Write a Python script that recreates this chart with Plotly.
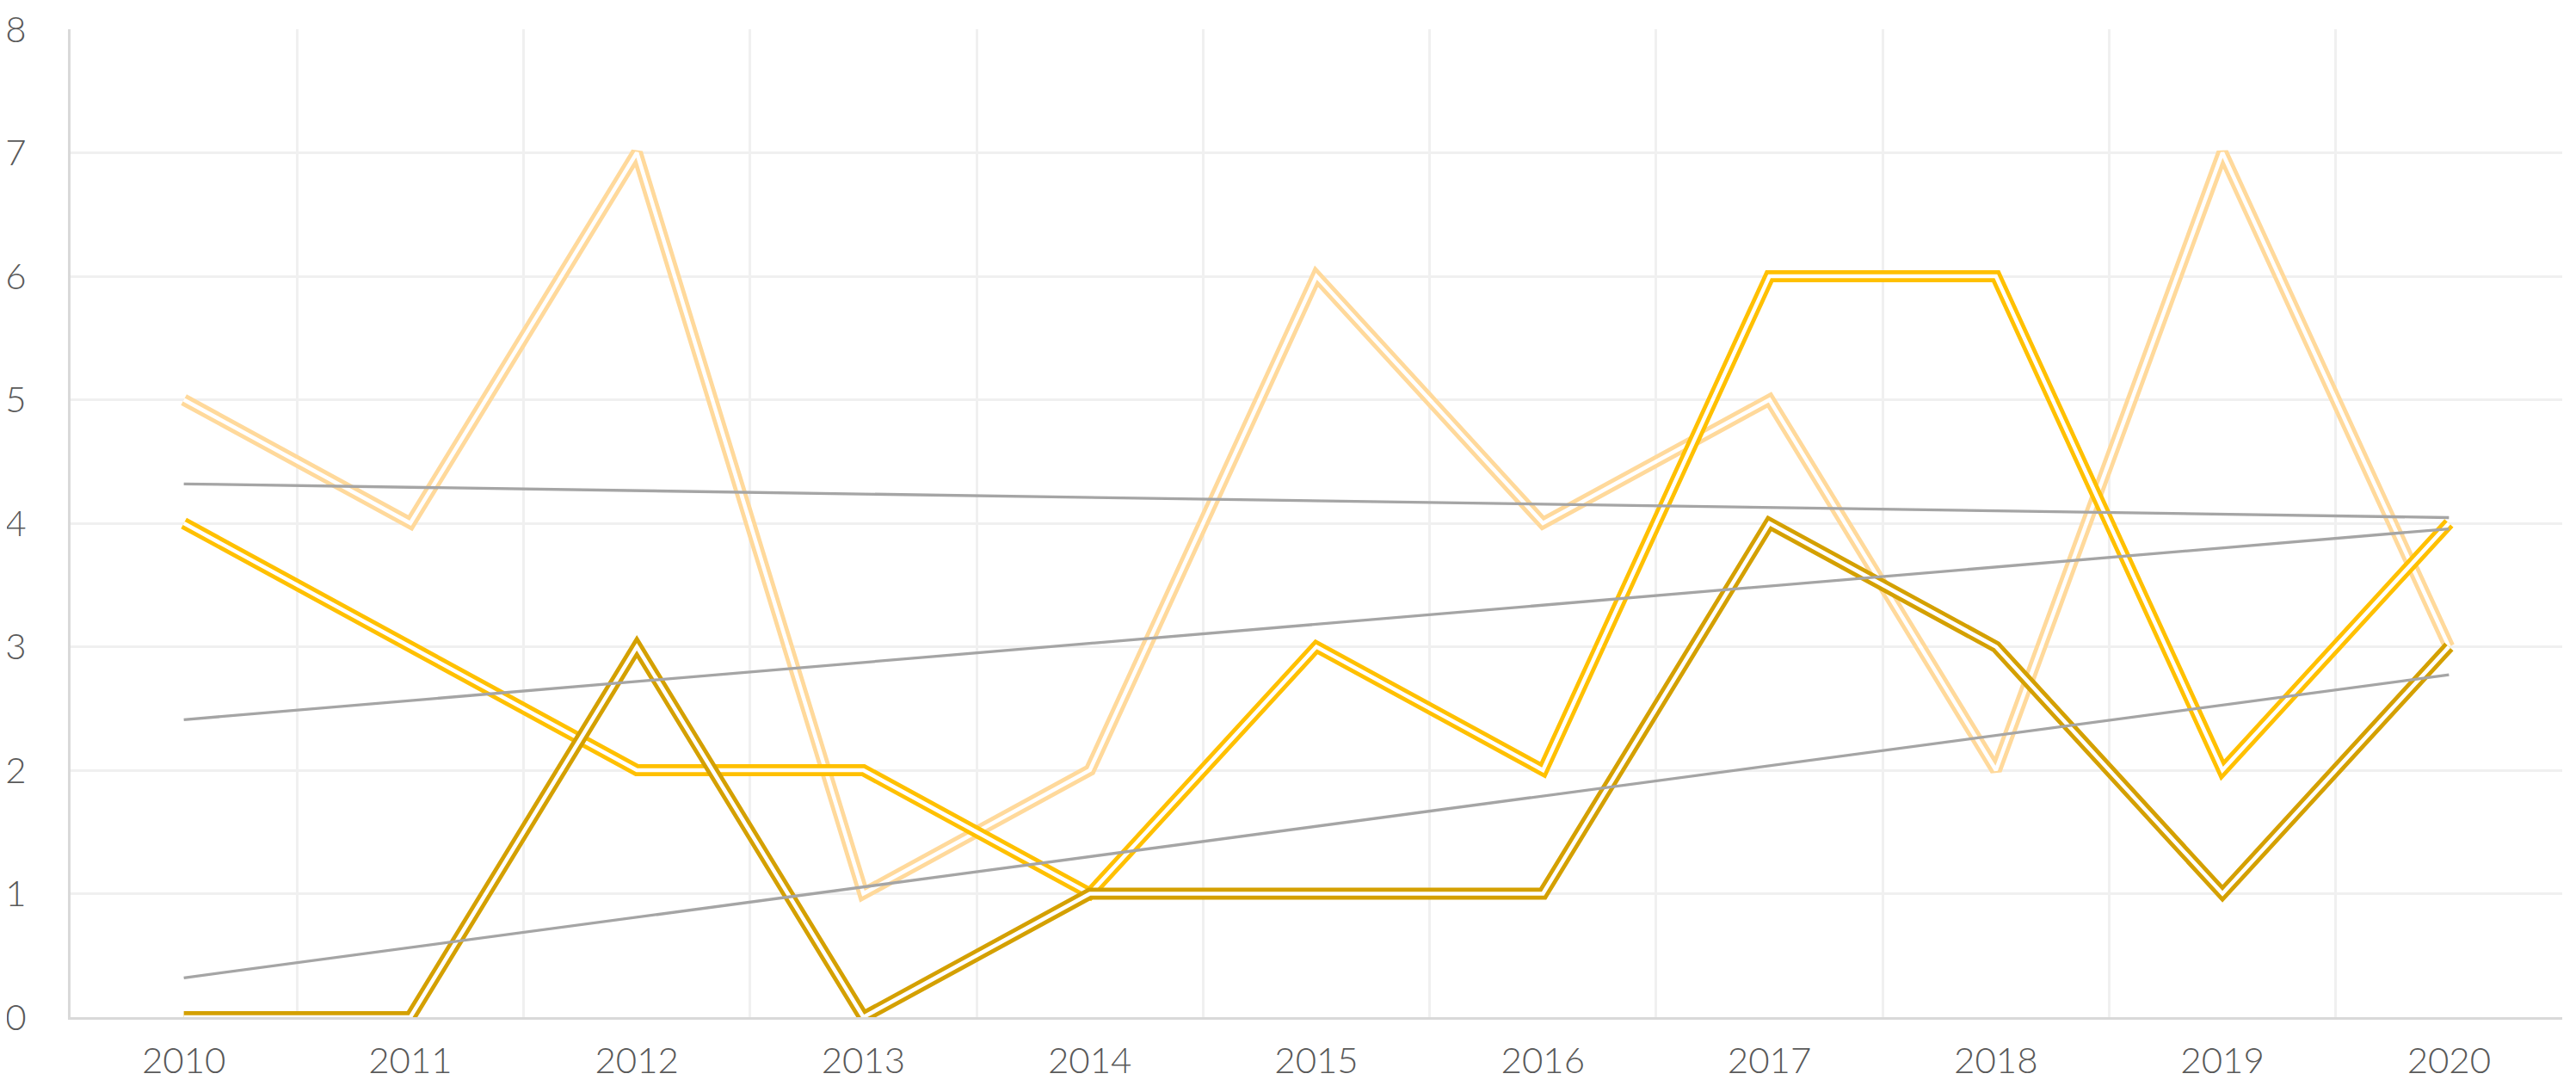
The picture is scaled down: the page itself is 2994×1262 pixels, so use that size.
import numpy as np
import plotly.graph_objects as go

years = ['2010', '2011', '2012', '2013', '2014', '2015', '2016', '2017', '2018', '2019', '2020']
series_light = [5, 4, 7, 1, 2, 6, 4, 5, 2, 7, 3]
series_yellow = [4, 3, 2, 2, 1, 3, 2, 6, 6, 2, 4]
series_dark = [0, 0, 3, 0, 1, 1, 1, 4, 3, 1, 3]

x = list(range(len(years)))

fig = go.Figure()

# Excel-style double ("compound") lines: thick colour stroke with a thin white core
for name, vals, color in [('Series 1', series_light, '#FFD99B'),
                          ('Series 2', series_yellow, '#FFC000'),
                          ('Series 3', series_dark, '#D4A000')]:
    fig.add_trace(go.Scatter(x=x, y=vals, mode='lines', name=name,
                             line=dict(color=color, width=14)))
    fig.add_trace(go.Scatter(x=x, y=vals, mode='lines', showlegend=False,
                             hoverinfo='skip', line=dict(color='white', width=4.5)))

# Linear trendlines
for vals in [series_light, series_yellow, series_dark]:
    slope, intercept = np.polyfit(x, vals, 1)
    xs = [x[0], x[-1]]
    fig.add_trace(go.Scatter(x=xs, y=[intercept + slope * v for v in xs], mode='lines',
                             showlegend=False, line=dict(color='#A5A5A5', width=3.3)))

tick_font = dict(family='Lato', size=42, color='#595959', weight=300)

# page body has an 8px margin, so the figure is sized to fit inside the window
fig.update_layout(
    width=2978, height=1246,
    paper_bgcolor='white', plot_bgcolor='white',
    margin=dict(l=74, r=8, t=26, b=72),
    showlegend=False,
)

fig.update_xaxes(
    range=[-0.5, 10.5], automargin=False,
    tickmode='array', tickvals=x, ticktext=years,
    showgrid=False, zeroline=False,
    showline=True, linecolor='#D9D9D9', linewidth=3,
    ticks='', tickfont=tick_font, ticklabelstandoff=12,
    ticklabeloverflow='allow',
    minor=dict(tick0=0.5, dtick=1, showgrid=True, gridcolor='#F0F0F0', gridwidth=2.5),
)

fig.update_yaxes(
    range=[0, 8], dtick=1, automargin=False,
    showgrid=True, gridcolor='#F0F0F0', gridwidth=2.5,
    zeroline=False,
    showline=True, linecolor='#D9D9D9', linewidth=3,
    ticks='', tickfont=tick_font, ticklabelstandoff=40,
    ticklabeloverflow='allow',
)

fig.write_html("out.html")
